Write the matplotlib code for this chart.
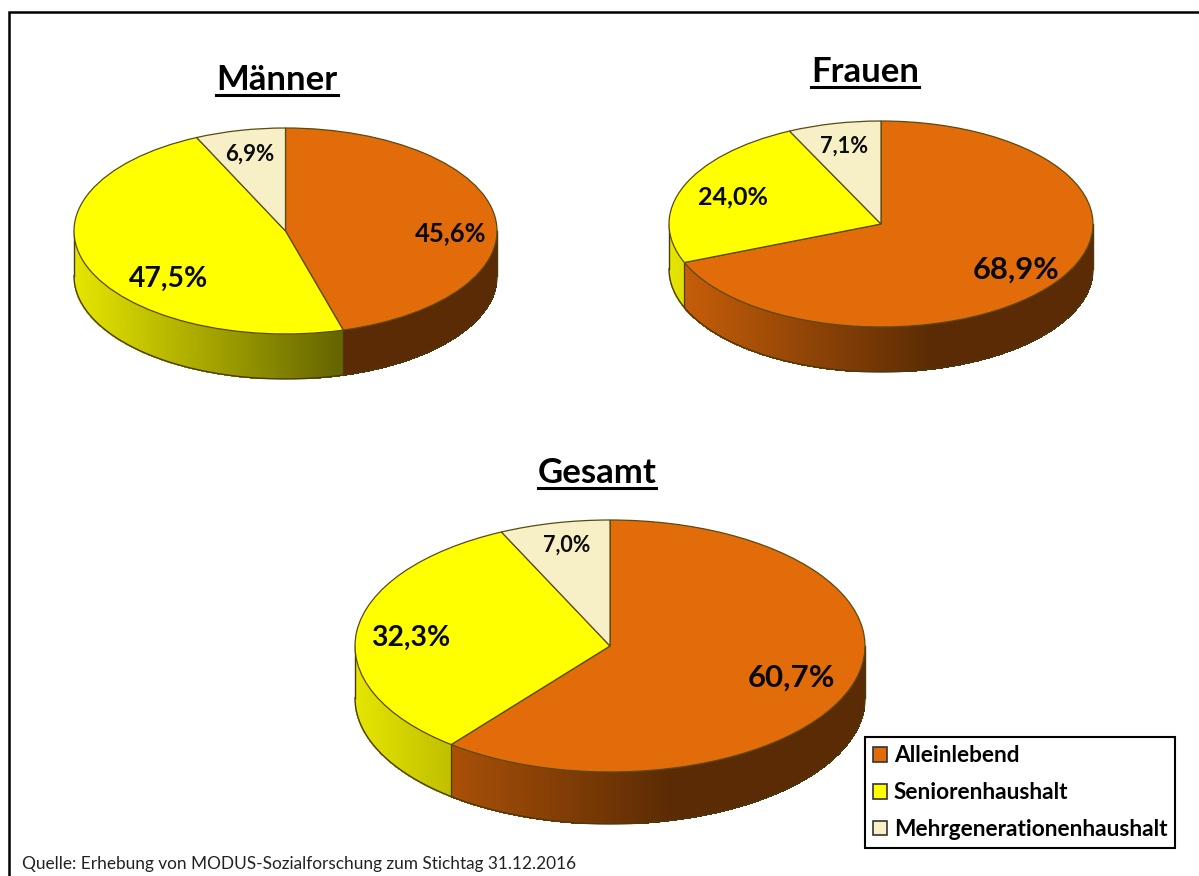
import matplotlib
matplotlib.use("Agg")
import matplotlib.pyplot as plt
from matplotlib.collections import PolyCollection
from matplotlib.patches import Rectangle, Patch
import numpy as np

W, H = 1199, 876

categories = ["Alleinlebend", "Seniorenhaushalt", "Mehrgenerationenhaushalt"]
maenner = [45.6, 47.5, 6.9]
frauen = [68.9, 24.0, 7.1]
gesamt = [60.7, 32.3, 7.0]
colors = ["#E26B0A", "#FFFF00", "#F7F0C6"]

plt.rcParams["font.family"] = ["Lato", "DejaVu Sans"]
plt.rcParams["font.weight"] = "bold"

fig = plt.figure(figsize=(W / 100, H / 100), dpi=100)


def shade(x):
    # Seitenwand: links hell, ab etwa der Mitte dunkel
    t = (x + 1) / 2
    return np.clip(0.9 - 0.5 * t / 0.62, 0.4, 0.9)


def draw_pie(values, cx, cy, rx, ry, depth, sizes, label_pos):
    # Achse in Pixeln der Abbildung platzieren
    d = depth / ry
    left = (cx - rx) / W
    bottom = (H - cy - ry - depth) / H
    ax = fig.add_axes([left, bottom, 2 * rx / W, (2 * ry + depth) / H])

    fracs = np.array(values) / sum(values)
    edges = np.cumsum(fracs)
    f = np.linspace(0, 1, 1441)
    th = np.deg2rad(90 - 360 * f)
    polys, cols = [], []
    for i in range(len(f) - 1):
        if np.sin(th[i]) > 0.001 or np.sin(th[i + 1]) > 0.001:
            continue
        x0, x1 = np.cos(th[i]), np.cos(th[i + 1])
        y0, y1 = np.sin(th[i]), np.sin(th[i + 1])
        polys.append([(x0, y0), (x1, y1), (x1, y1 - d), (x0, y0 - d)])
        k = min(np.searchsorted(edges, (f[i] + f[i + 1]) / 2), 2)
        rgb = np.array(matplotlib.colors.to_rgb(colors[k]))
        cols.append(rgb * shade((x0 + x1) / 2))
    ax.add_collection(PolyCollection(polys, facecolors=cols, edgecolors=cols,
                                     linewidths=0.6, antialiaseds=False, zorder=1))

    # Umriss der Seitenwand
    low = np.linspace(np.pi, 2 * np.pi, 300)
    ax.plot(np.cos(low), np.sin(low) - d, color="#4a3a10", lw=1.0, zorder=2, clip_on=False)
    for x in (-1, 1):
        ax.plot([x, x], [0, -d], color="#4a3a10", lw=1.0, zorder=2, clip_on=False)
    for e in edges[:-1]:
        a = np.deg2rad(90 - 360 * e)
        if np.sin(a) < 0:
            ax.plot([np.cos(a)] * 2, [np.sin(a), np.sin(a) - d],
                    color="#4a3a10", lw=0.9, zorder=2, clip_on=False)

    ax.pie(values, colors=colors, startangle=90, counterclock=False, radius=1,
           wedgeprops=dict(edgecolor="#5a4a10", linewidth=0.9, zorder=3))
    ax.set_aspect("auto")
    ax.set_xlim(-1, 1)
    ax.set_ylim(-1 - d, 1)
    ax.axis("off")

    for v, s, (px, py) in zip(values, sizes, label_pos):
        txt = f"{v:.1f}%".replace(".", ",")
        ax.text(px, py, txt, fontsize=s, color="#0a0a0a", ha="center", va="center", zorder=5)


def title(text, x, y, size):
    t = fig.text(x / W, 1 - y / H, text, fontsize=size, ha="center", va="center", color="black")
    fig.canvas.draw()
    bb = t.get_window_extent()
    fig.add_artist(plt.Line2D([bb.x0 / W, bb.x1 / W], [1 - (y + 15) / H] * 2,
                              color="black", lw=2.2))


draw_pie(maenner, 285.5, 231, 211.5, 103, 45, [18.4, 20.3, 16],
         [(0.782, -0.02), (-0.555, -0.466), (-0.168, 0.748)])
draw_pie(frauen, 881, 224, 212, 103, 45, [22.3, 18, 15.7],
         [(0.639, -0.447), (-0.696, 0.262), (-0.172, 0.757)])
draw_pie(gesamt, 610, 646, 255, 126, 52, [22.5, 20.3, 15.5],
         [(0.712, -0.254), (-0.78, 0.063), (-0.171, 0.80)])

title("Männer", 277, 80, 25)
title("Frauen", 865, 72, 25)
title("Gesamt", 597, 473, 25)

fig.add_artist(Rectangle((9 / W, 1 - 900 / H), 1300 / W, 888 / H, fill=False,
                         edgecolor="black", lw=1.8, transform=fig.transFigure, clip_on=True))

handles = [Patch(facecolor=c, edgecolor="#333333", lw=1.2) for c in colors]
leg = fig.legend(handles, categories, loc="lower left",
                 bbox_to_anchor=(865 / W, 1 - 848 / H), fontsize=16.3, frameon=True,
                 fancybox=False, edgecolor="black", framealpha=1, labelspacing=0.7,
                 handlelength=0.62, handleheight=0.62, handletextpad=0.31,
                 borderpad=0.35, borderaxespad=0)
leg.get_frame().set_linewidth(1.5)

fig.text(22 / W, 1 - 864 / H, "Quelle: Erhebung von MODUS-Sozialforschung zum Stichtag 31.12.2016",
         fontsize=12.45, fontweight="normal", color="#222222", ha="left", va="center")

fig.savefig("out.png", dpi=100, facecolor="white")
